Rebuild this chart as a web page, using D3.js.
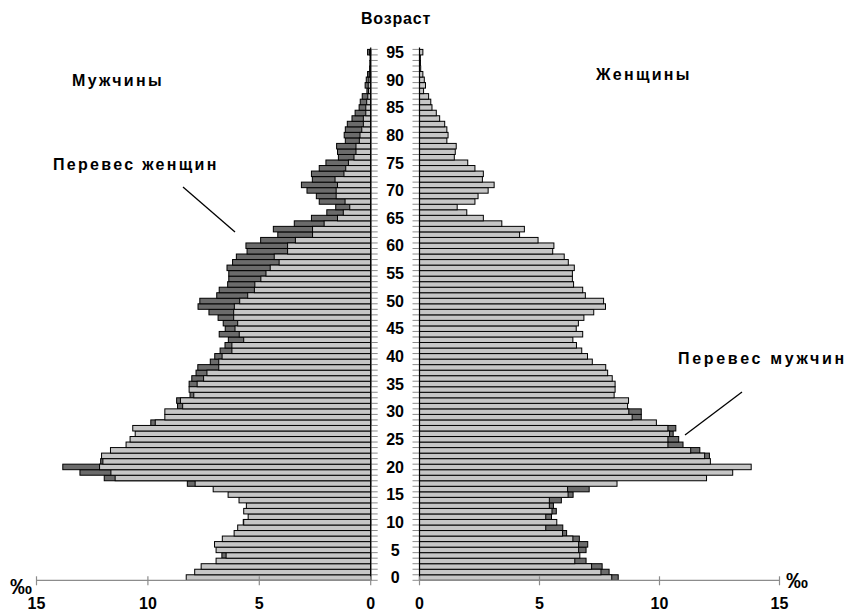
<!DOCTYPE html>
<html><head><meta charset="utf-8">
<script src="https://cdn.jsdelivr.net/npm/d3@7"></script>
<style>body{margin:0;background:#fff}svg{display:block}text{font-family:"Liberation Sans",Arial,sans-serif;font-weight:bold;fill:#000}</style>
</head><body><svg id="c" width="847" height="612"></svg>
<script>
const ages = d3.range(0, 96);
const male = [8.28,7.90,7.61,6.94,6.49,6.94,7.01,6.66,6.13,5.97,
5.70,5.50,5.70,5.58,5.91,6.40,7.07,7.88,11.47,11.66,
12.17,12.02,12.08,11.68,10.98,10.80,10.57,10.68,9.67,9.24,
9.24,8.44,8.54,7.94,8.15,7.79,7.50,7.35,6.82,6.82,
6.67,6.23,6.23,5.70,5.90,6.09,5.97,6.15,6.15,6.12,
5.88,5.52,5.22,5.20,4.93,4.70,4.51,4.11,4.33,3.73,
3.73,3.38,2.61,2.61,2.09,1.49,1.23,0.94,1.15,1.55,
1.55,1.49,1.60,1.20,1.12,1.00,0.75,0.66,0.66,0.51,
0.48,0.40,0.33,0.33,0.22,0.22,0.18,0.13,0.10,0.11,
0.08,0.06,0.05,0.04,0.03,0.05];
const female = [8.01,7.56,7.17,6.47,6.68,6.63,6.63,6.39,5.96,5.26,
5.72,5.26,5.52,5.41,5.41,6.19,6.17,8.23,11.96,13.05,
13.82,12.12,11.88,11.30,10.35,10.35,10.42,10.35,9.87,8.86,
8.72,8.67,8.71,8.11,8.15,8.15,8.03,7.84,7.76,7.20,
7.00,6.76,6.54,6.39,6.80,6.53,6.62,6.85,7.26,7.75,
7.67,6.91,6.80,6.42,6.37,6.37,6.45,6.20,6.03,5.55,
5.60,4.94,4.17,4.37,3.43,2.66,1.97,1.57,2.31,2.44,
2.86,3.11,2.62,2.66,2.31,2.01,1.45,1.49,1.53,1.14,
1.19,1.14,1.05,0.84,0.70,0.52,0.47,0.38,0.17,0.25,
0.20,0.14,0.05,0.03,0.02,0.14];
const xTicks = [0, 5, 10, 15];
const ageTicks = d3.range(0, 96, 5);
const labels = {title: "Возраст", men: "Мужчины", women: "Женщины", exF: "Перевес женщин", exM: "Перевес мужчин", unit: "‰"};

const svg = d3.select("#c");
const xL = d3.scaleLinear().domain([0, 15]).range([370.7, 36.5]);
const xR = d3.scaleLinear().domain([0, 15]).range([419.5, 779.5]);
const y = d3.scaleBand().domain(ages).range([580.3, 49.4]).padding(0);
const bw = y.bandwidth();
const LIGHT = "#c6c6c6", DARK = "#6b6b6b";

const rows = ages.map((a, i) => ({a, m: male[i], f: female[i]}));

const gL = svg.append("g");
gL.selectAll("rect.d").data(rows.filter(d => d.f > d.m)).join("rect")
  .attr("x", d => xL(d.f)).attr("y", d => y(d.a))
  .attr("width", d => xL(0) - xL(d.f)).attr("height", bw)
  .attr("fill", DARK).attr("stroke", "#000").attr("stroke-width", 1);
gL.selectAll("rect.l").data(rows).join("rect")
  .attr("x", d => xL(d.m)).attr("y", d => y(d.a))
  .attr("width", d => xL(0) - xL(d.m)).attr("height", bw)
  .attr("fill", LIGHT).attr("stroke", "#000").attr("stroke-width", 1);

const gR = svg.append("g");
gR.selectAll("rect.d").data(rows.filter(d => d.m > d.f)).join("rect")
  .attr("x", xR(0)).attr("y", d => y(d.a))
  .attr("width", d => xR(d.m) - xR(0)).attr("height", bw)
  .attr("fill", DARK).attr("stroke", "#000").attr("stroke-width", 1);
gR.selectAll("rect.l").data(rows).join("rect")
  .attr("x", xR(0)).attr("y", d => y(d.a))
  .attr("width", d => xR(d.f) - xR(0)).attr("height", bw)
  .attr("fill", LIGHT).attr("stroke", "#000").attr("stroke-width", 1);

const yTop = y(95), yBot = y(0) + bw;
const bounds = ages.map(a => y(a)).concat([yBot]);
svg.append("g").selectAll("line").data(bounds).join("line")
  .attr("x1", xL(0)).attr("x2", xL(0) + 7).attr("y1", d => d).attr("y2", d => d)
  .attr("stroke", "#8c8c8c").attr("stroke-width", 1);
svg.append("g").selectAll("line").data(bounds).join("line")
  .attr("x1", xR(0) - 7).attr("x2", xR(0)).attr("y1", d => d).attr("y2", d => d)
  .attr("stroke", "#8c8c8c").attr("stroke-width", 1);
svg.append("line").attr("x1", xL(0)).attr("x2", xL(0)).attr("y1", yTop - 2).attr("y2", yBot).attr("stroke", "#000").attr("stroke-width", 1.2);
svg.append("line").attr("x1", xR(0)).attr("x2", xR(0)).attr("y1", yTop - 2).attr("y2", yBot).attr("stroke", "#000").attr("stroke-width", 1.2);

svg.append("g").selectAll("text").data(ageTicks).join("text")
  .attr("x", (xL(0) + xR(0)) / 2).attr("y", a => y(a) + bw / 2)
  .attr("dy", "0.36em").attr("text-anchor", "middle").attr("font-size", 16)
  .text(a => a);

function xAxis(scale) {
  const g = svg.append("g");
  g.append("line").attr("x1", scale(0)).attr("x2", scale(15)).attr("y1", yBot).attr("y2", yBot)
    .attr("stroke", "#8c8c8c").attr("stroke-width", 1.2);
  g.selectAll("line.t").data(xTicks).join("line")
    .attr("x1", d => scale(d)).attr("x2", d => scale(d)).attr("y1", yBot - 4).attr("y2", yBot + 5)
    .attr("stroke", "#8c8c8c").attr("stroke-width", 1.2);
  g.selectAll("text").data(xTicks).join("text")
    .attr("x", d => scale(d)).attr("y", 609).attr("text-anchor", "middle").attr("font-size", 16)
    .text(d => d);
}
xAxis(xL); xAxis(xR);

svg.append("text").attr("x", 21).attr("y", 594).attr("text-anchor", "middle").attr("font-size", 22).text(labels.unit);
svg.append("text").attr("x", 797).attr("y", 588).attr("text-anchor", "middle").attr("font-size", 22).text(labels.unit);

const ls = "2.3px";
svg.append("text").attr("x", 396).attr("y", 24).attr("text-anchor", "middle").attr("font-size", 16).attr("letter-spacing", "0.8px").text(labels.title);
svg.append("text").attr("x", 72).attr("y", 86).attr("font-size", 16).attr("letter-spacing", ls).text(labels.men);
svg.append("text").attr("x", 596).attr("y", 80).attr("font-size", 16).attr("letter-spacing", ls).text(labels.women);
svg.append("text").attr("x", 53).attr("y", 170).attr("font-size", 16).attr("letter-spacing", ls).text(labels.exF);
svg.append("text").attr("x", 678).attr("y", 364).attr("font-size", 16).attr("letter-spacing", "2.7px").text(labels.exM);

svg.append("line").attr("x1", 183).attr("y1", 187).attr("x2", 235).attr("y2", 232).attr("stroke", "#000").attr("stroke-width", 1.3);
svg.append("line").attr("x1", 742).attr("y1", 392).attr("x2", 685).attr("y2", 435).attr("stroke", "#000").attr("stroke-width", 1.3);
</script></body></html>
